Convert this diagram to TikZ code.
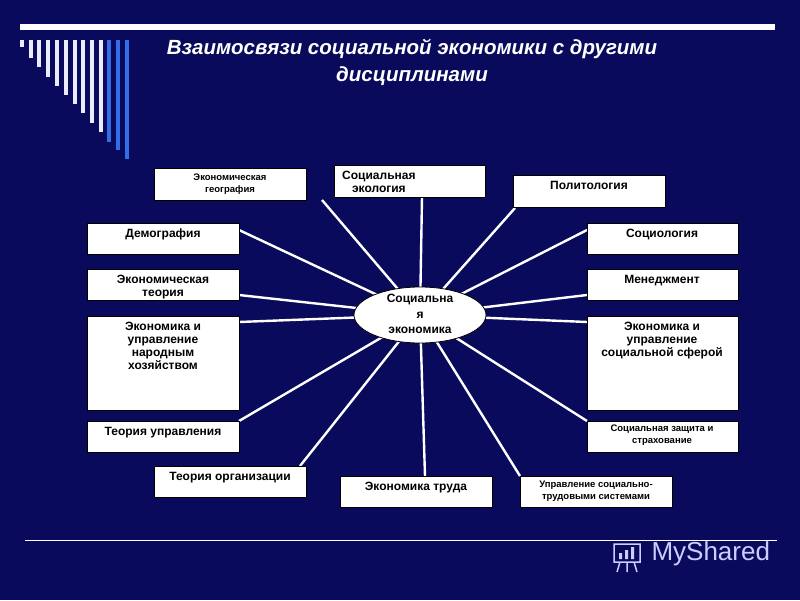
\documentclass[tikz,border=0pt]{standalone}
\usepackage{fontspec}
\usetikzlibrary{shapes.geometric}
\setmainfont{Liberation Sans}
\definecolor{bg}{RGB}{10,10,92}
\definecolor{bar}{RGB}{50,110,230}
\begin{document}
\begin{tikzpicture}[x=1pt,y=-1pt,
  box/.style={draw=black,fill=white,line width=0.8pt},
  lbl/.style={anchor=north,align=center,font=\bfseries\fontsize{12}{13}\selectfont,inner sep=0pt},
  slbl/.style={anchor=north,align=center,font=\bfseries\fontsize{9.5}{12}\selectfont,inner sep=0pt},
  conn/.style={white,line width=2.4pt}]
\fill[bg] (0,0) rectangle (800,600);
\useasboundingbox (0,0) rectangle (800,600);
\fill[white] (20,24) rectangle (775,30);
\foreach \x/\b [count=\i] in {22/47,31/58,39/67,48/77,57/86,66/95,75/104,83/113,92/123,101/132,109/142,118/150,127/159}{
  \ifnum\i>10 \fill[bar] (\x-2,40) rectangle (\x+2,\b);
  \else \fill[white!92!blue] (\x-2,40) rectangle (\x+2,\b); \fi}
\draw[white,line width=0.8pt] (25,540) -- (777,540);
\node[white,align=center,font=\bfseries\itshape\fontsize{20.5}{27}\selectfont] (title) at (412,62) {Взаимосвязи социальной экономики с другими\\дисциплинами};
\coordinate (c) at (420,315);
% boxes
\foreach \n/\a/\b/\c/\d in {geo/154/168/306/200, eco/334/165/485/197, pol/513/175/665/207, dem/87/223/239/254, soc/587/223/738/254, et/87/269/239/300, man/587/269/738/300, enx/87/316/239/410, ess/587/316/738/410, tu/87/421/239/452, szs/587/421/738/452, to/154/466/306/497, et2/340/476/492/507, ust/520/476/672/507}
  {\path (\a,\b) coordinate (\n nw) (\c,\d) coordinate (\n se);}
\foreach \p in {(322,200),(422,197),(515,208),(239,230),(587,230),(239,295),(587,295),(239,322),(587,322),(239,421),(587,421),(300,466),(425,476),(520,476)}
  \draw[conn] \p -- (c);
\foreach \n in {geo,eco,pol,dem,soc,et,man,enx,ess,tu,szs,to,et2,ust}
  \draw[box] (\n nw) rectangle (\n se);
\node[draw=black,fill=white,ellipse,minimum width=132pt,minimum height=56pt,line width=0.8pt,inner sep=0pt] (ell) at (c) {};
\node[lbl,font=\bfseries\fontsize{12}{15.5}\selectfont] (ellt) at (420,294) {Социальна\\я\\экономика};
\node[slbl] (tgeo) at (230,174) {Экономическая\\география};
\node[lbl,anchor=north west] (teco) at (342,171) {Социальная\\экология};
\node[lbl] (tpol) at (589,181) {Политология};
\node[lbl] (tdem) at (163,229) {Демография};
\node[lbl] (tsoc) at (662,229) {Социология};
\node[lbl] (tet) at (163,275) {Экономическая\\теория};
\node[lbl] (tman) at (662,275) {Менеджмент};
\node[lbl] (tenx) at (163,322) {Экономика и\\управление\\народным\\хозяйством};
\node[lbl] (tess) at (662,322) {Экономика и\\управление\\социальной сферой};
\node[lbl] (ttu) at (163,427) {Теория управления};
\node[slbl] (tszs) at (662,425) {Социальная защита и\\страхование};
\node[lbl] (tto) at (230,472) {Теория организации};
\node[lbl] (tet2) at (416,482) {Экономика труда};
\node[slbl] (tust) at (596,481) {Управление социально-\\трудовыми системами};
% logo
\node[white!80!blue,font=\fontsize{26}{28}\selectfont,anchor=west] (logo) at (648,554) {MyShared};
\draw[white!80!blue,line width=1.5pt] (614,544) rectangle (640,562) (620,562)--(617,572) (634,562)--(637,572) (627,562)--(627,572);
\fill[white!80!blue] (619,553) rectangle (622,559) (625,550) rectangle (628,559) (631,547) rectangle (634,559);
\end{tikzpicture}
\end{document}
